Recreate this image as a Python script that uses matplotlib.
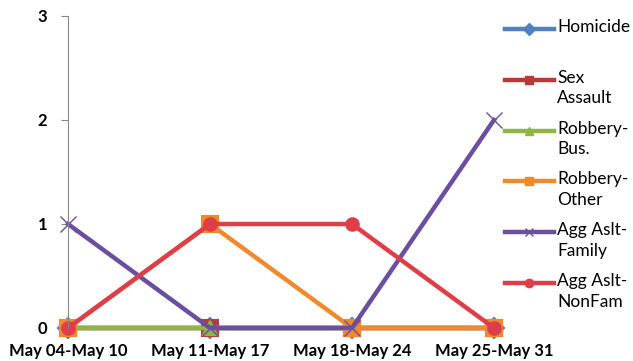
import matplotlib.pyplot as plt
from matplotlib.lines import Line2D

plt.rcParams["font.family"] = ["Lato", "DejaVu Sans"]

weeks = ["May 04-May 10", "May 11-May 17", "May 18-May 24", "May 25-May 31"]

homicide = [0, 0, 0, 0]
sex_assault = [0, 0, 0, 0]
robbery_bus = [0, 0, 0, 0]
robbery_other = [0, 1, 0, 0]
agg_family = [1, 0, 0, 2]
agg_nonfam = [0, 1, 1, 0]

labels = ["Homicide", "Sex\nAssault", "Robbery-\nBus.", "Robbery-\nOther",
          "Agg Aslt-\nFamily", "Agg Aslt-\nNonFam"]
colors = ["#4F81BD", "#B83A36", "#8DB645", "#F0892E", "#6A4FA0", "#DE3E48"]
markers = ["D", "s", "^", "s", "x", "o"]
msizes = [10, 11, 10, 11, 12, 9]

series = [homicide, sex_assault, robbery_bus, robbery_other, agg_family, agg_nonfam]

fig = plt.figure(figsize=(6.33, 3.61), dpi=100)
ax = fig.add_axes([68 / 633, 33 / 361, (494 - 68) / 633, (328 - 16) / 361])

x = list(range(len(weeks)))
for vals, c, m, ms in zip(series, colors, markers, msizes):
    ax.plot(x, vals, color=c, linewidth=3.2, marker=m, markersize=ms,
            markeredgewidth=1.5 if m != "x" else 1.0, clip_on=False)

ax.set_xlim(0, 3)
ax.set_ylim(0, 3)
ax.set_yticks([0, 1, 2, 3])
ax.set_xticks(x)
ax.set_xticklabels(weeks, fontweight="bold", fontsize=12)
ax.set_yticklabels(["0", "1", "2", "3"], fontweight="bold", fontsize=12)
ax.tick_params(axis="x", length=0, pad=11)
ax.tick_params(axis="y", length=5, color="#888888", pad=10)
for s in ["top", "right", "bottom"]:
    ax.spines[s].set_visible(False)
ax.spines["left"].set_color("#888888")

# legend drawn by hand, handle on first line of each label
for i, (lab, c, m) in enumerate(zip(labels, colors, markers)):
    yy = 1 - (29 + i * 50.8) / 361
    fig.add_artist(Line2D([505 / 633, 554 / 633], [yy, yy], color=c, linewidth=3.2,
                          transform=fig.transFigure))
    fig.add_artist(Line2D([529 / 633], [yy], color=c, marker=m, markersize=6,
                          transform=fig.transFigure))
    fig.text(557 / 633, yy + 10 / 361, lab, fontsize=12.5, va="top", ha="left",
             linespacing=1.35)

fig.savefig("out.png", dpi=100)
